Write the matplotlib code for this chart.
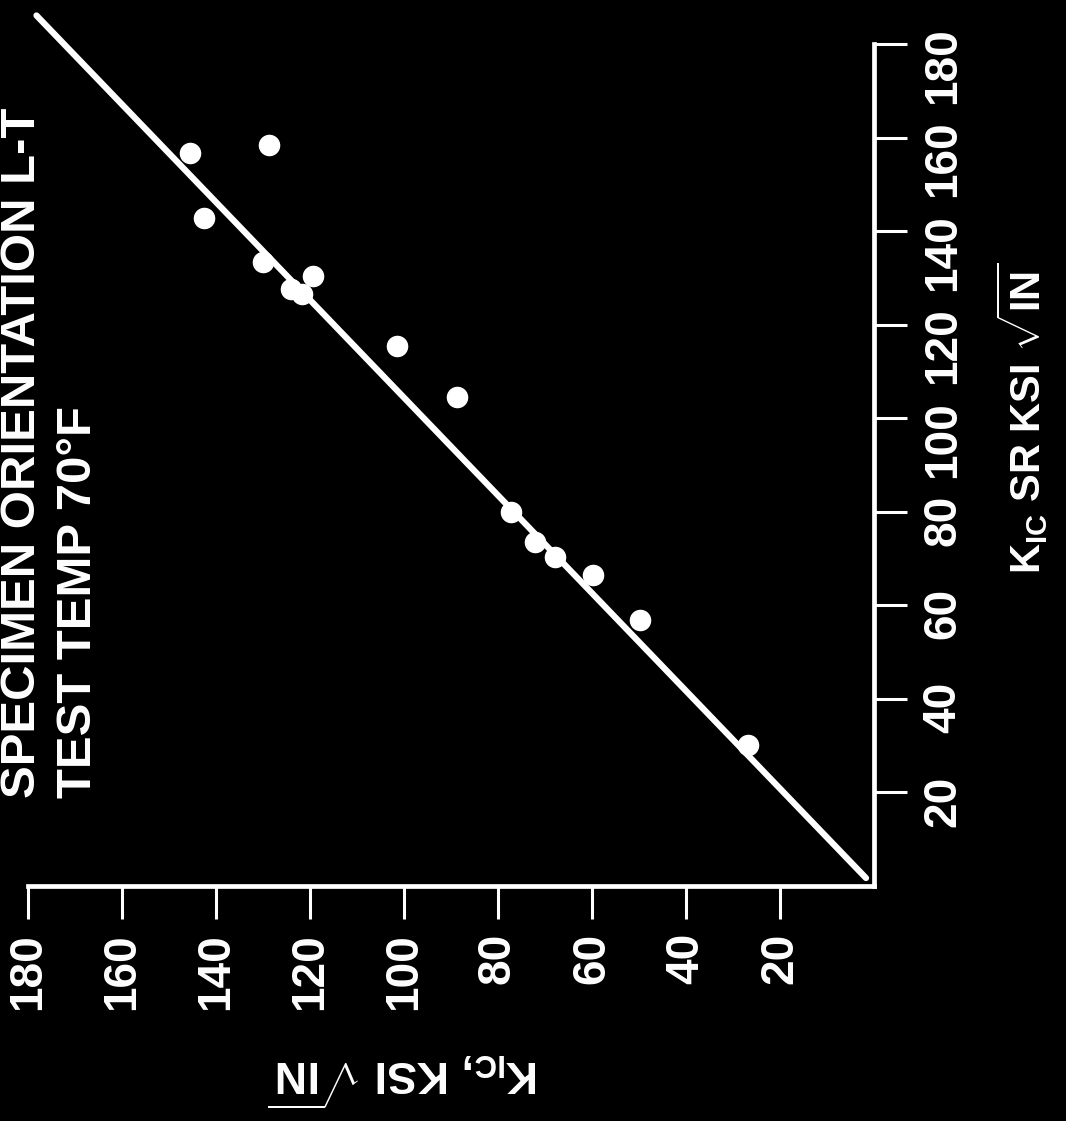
import numpy as np
import matplotlib
matplotlib.use("Agg")
import matplotlib.pyplot as plt

# K_IC (plotted along the rotated horizontal axis) vs K_IC SR (rotated vertical axis)
k_ic = [145.6, 128.7, 142.6, 129.9, 119.4, 124.1, 121.8, 101.4, 88.7,
        77.2, 72.1, 67.8, 59.8, 49.8, 26.9]
k_ic_sr = [156.6, 158.5, 142.7, 133.4, 130.4, 127.7, 126.6, 115.4, 104.6,
           80.0, 73.6, 70.4, 66.5, 56.8, 30.1]

line_k = [1.7, 178.2]
line_sr = [1.7, 186.1]

ticks = [20, 40, 60, 80, 100, 120, 140, 160, 180]

TITLE_1 = "SPECIMEN ORIENTATION L-T"
TITLE_2 = "TEST TEMP 70\u00b0F"

plt.rcParams["font.family"] = ["Liberation Sans", "DejaVu Sans"]
plt.rcParams["font.weight"] = "bold"
plt.rcParams["mathtext.fontset"] = "custom"
plt.rcParams["mathtext.rm"] = "Liberation Sans:bold"
plt.rcParams["mathtext.bf"] = "Liberation Sans:bold"
plt.rcParams["mathtext.it"] = "Liberation Sans:bold"

W, H = 1066, 1121
fig = plt.figure(figsize=(W / 100, H / 100), dpi=100, facecolor="black")

# axes box in pixel coordinates of the (rotated) scan
left, right, top, bottom = 28, 874, 44, 886
ax = fig.add_axes([left / W, (H - bottom) / H, (right - left) / W, (bottom - top) / H])
ax.set_facecolor("black")

ax.plot(line_k, line_sr, color="white", lw=4.5, solid_capstyle="round", clip_on=False, zorder=2)
ax.plot(k_ic, k_ic_sr, "o", color="white", ms=14.5, mec="white", clip_on=False, zorder=3)

ax.set_xlim(180, 0)
ax.set_ylim(0, 180)

for s in ["top", "left"]:
    ax.spines[s].set_visible(False)
for s in ["bottom", "right"]:
    ax.spines[s].set_color("white")
    ax.spines[s].set_linewidth(3.4)

ax.yaxis.tick_right()
ax.set_xticks(ticks)
ax.set_yticks(ticks)
ax.set_xticklabels([str(t) for t in ticks], rotation=90)
ax.set_yticklabels([str(t) for t in ticks], rotation=90)
ax.tick_params(axis="both", colors="white", direction="out", length=24, width=2.2,
               labelsize=33, pad=10)
for lab in ax.get_xticklabels() + ax.get_yticklabels():
    lab.set_fontweight("bold")

fig.text(1022 / W, (H - 418) / H, r"$\mathbf{K_{IC}}$ SR KSI $\sqrt{\mathbf{IN}}$",
         rotation=90, ha="center", va="center", color="white", fontsize=30, fontweight="bold")
fig.text(404 / W, (H - 1080) / H, r"$\mathbf{K_{IC}}$, KSI $\sqrt{\mathbf{IN}}$",
         rotation=180, ha="center", va="center", color="white", fontsize=32, fontweight="bold")

fig.text(23 / W, (H - 798) / H, TITLE_1, rotation=90, ha="center", va="bottom",
         color="white", fontsize=35.4, fontweight="bold")
fig.text(79 / W, (H - 798) / H, TITLE_2, rotation=90, ha="center", va="bottom",
         color="white", fontsize=35.4, fontweight="bold")

fig.savefig("out.png", dpi=100, facecolor=fig.get_facecolor())
